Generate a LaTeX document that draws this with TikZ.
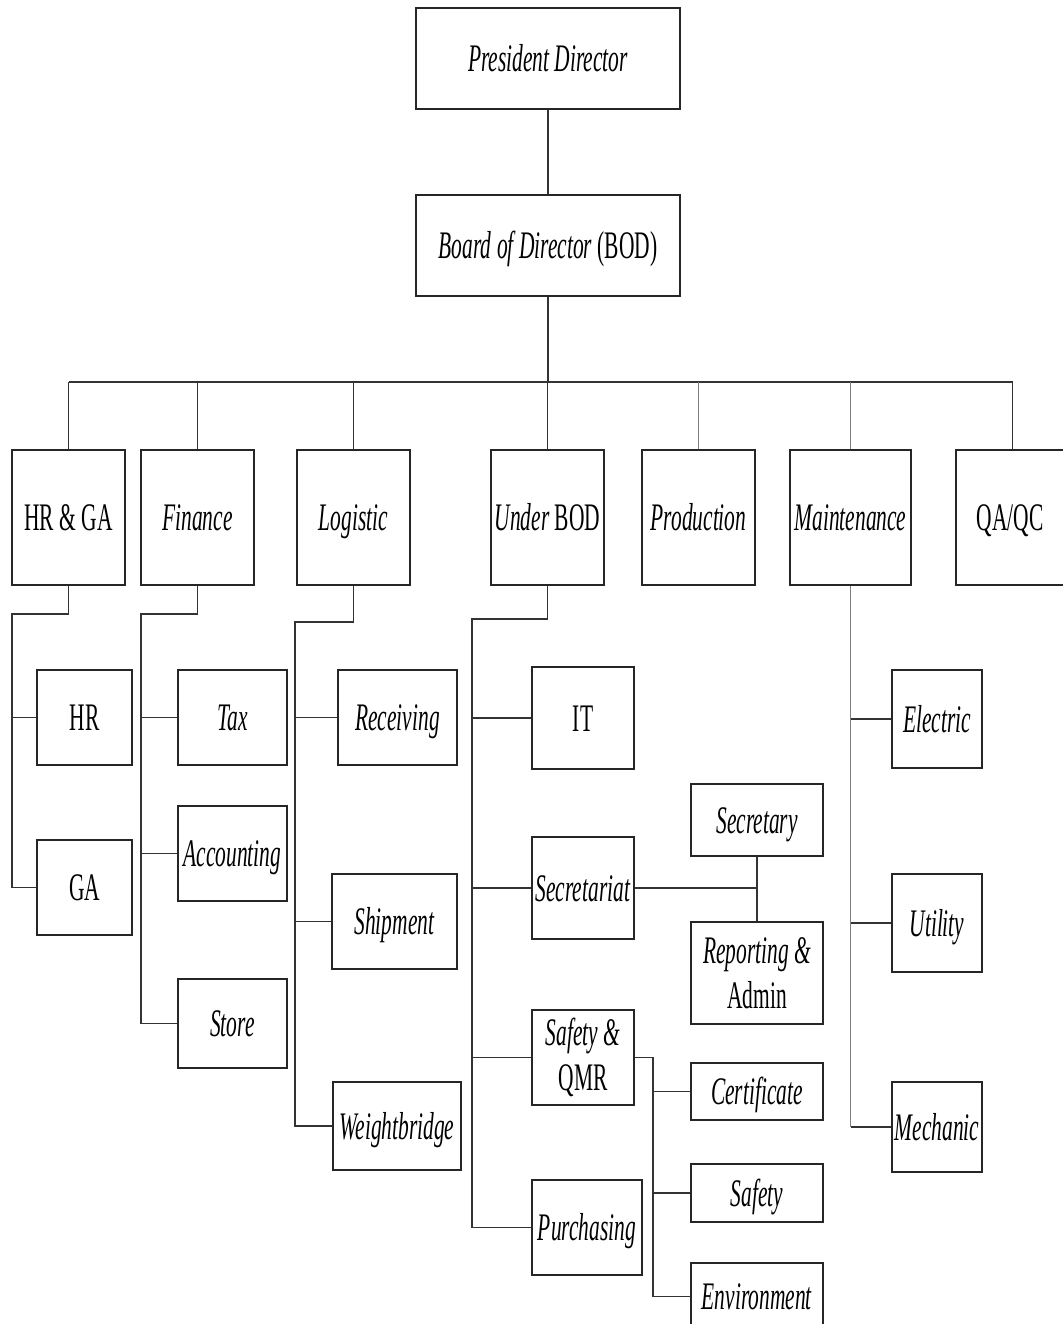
\documentclass[tikz,border=0pt]{standalone}
\usepackage{fontspec}
\setmainfont{Liberation Serif}[FakeStretch=0.55]
\begin{document}
\begin{tikzpicture}[x=1pt,y=-1pt,
  box/.style={draw=black!85, line width=1.2pt, inner sep=0pt, align=center,
    font=\fontsize{39}{45}\selectfont},
  one/.style={box, text height=26pt, text depth=0pt},
  conn/.style={draw=black!80, line width=1.1pt},
  gconn/.style={draw=black!50, line width=1.6pt}]
\useasboundingbox (0,0) rectangle (1062,1324);

% top levels
\node[one, minimum width=264pt, minimum height=101pt] (pres) at (548,58.5) {\textit{President Director}};
\node[one, minimum width=264pt, minimum height=101pt] (bod) at (548,245.5) {\textit{Board of Director} (BOD)};

% level 2
\node[one, minimum width=113pt, minimum height=135pt] (hrga) at (68.5,517.5) {HR \& GA};
\node[one, minimum width=113pt, minimum height=135pt] (fin) at (197.5,517.5) {\textit{Finance}};
\node[one, minimum width=113pt, minimum height=135pt] (log) at (353.5,517.5) {\textit{Logistic}};
\node[one, minimum width=113pt, minimum height=135pt] (ubod) at (547.5,517.5) {\textit{Under} BOD};
\node[one, minimum width=113pt, minimum height=135pt] (prod) at (698.5,517.5) {\textit{Production}};
\node[one, minimum width=121pt, minimum height=135pt] (maint) at (850.5,517.5) {\textit{Maintenance}};
\node[one, minimum width=113pt, minimum height=135pt] (qaqc) at (1012.5,517.5) {\kern-5pt QA/QC};

% HR & GA children
\node[one, minimum width=95pt, minimum height=95pt] (hr) at (84.5,717.5) {HR};
\node[one, minimum width=95pt, minimum height=95pt] (ga) at (84.5,887.5) {GA};

% Finance children
\node[one, minimum width=109pt, minimum height=95pt] (tax) at (232.5,717.5) {\textit{Tax}};
\node[one, minimum width=109pt, minimum height=95pt] (acc) at (232.5,853.5) {\textit{Accounting}};
\node[one, minimum width=109pt, minimum height=89pt] (store) at (232.5,1023.5) {\textit{Store}};

% Logistic children
\node[one, minimum width=119pt, minimum height=95pt] (recv) at (397.5,717.5) {\textit{Receiving}};
\node[one, minimum width=125pt, minimum height=95pt] (ship) at (394.5,921.5) {\textit{Shipment}};
\node[one, minimum width=128pt, minimum height=88pt] (weigh) at (397,1126) {\textit{Weightbridge}};

% Under BOD children
\node[one, minimum width=102pt, minimum height=102pt] (it) at (583,718) {IT};
\node[one, minimum width=102pt, minimum height=102pt] (sect) at (583,888) {\textit{Secretariat}};
\node[box, minimum width=102pt, minimum height=95pt] (safq) at (583,1057.5) {\textit{Safety \&}\\QMR};
\node[one, minimum width=110pt, minimum height=95pt] (purch) at (587,1227.5) {\textit{Purchasing}};

% Secretariat children
\node[one, minimum width=132pt, minimum height=72pt] (secr) at (757,820) {\textit{Secretary}};
\node[box, minimum width=132pt, minimum height=102pt] (rep) at (757,973) {\textit{Reporting \&}\\Admin};

% Safety & QMR children
\node[one, minimum width=132pt, minimum height=57pt] (cert) at (757,1091.5) {\textit{Certificate}};
\node[one, minimum width=132pt, minimum height=58pt] (safe) at (757,1193) {\textit{Safety}};
\node[one, minimum width=132pt, minimum height=67pt] (env) at (757,1296.5) {\textit{Environment}};

% Maintenance children
\node[one, minimum width=90pt, minimum height=98pt] (elec) at (937,719) {\textit{Electric}};
\node[one, minimum width=90pt, minimum height=98pt] (util) at (937,923) {\textit{Utility}};
\node[one, minimum width=90pt, minimum height=90pt] (mech) at (937,1127) {\textit{Mechanic}};

% bus coordinates
\coordinate (busL) at (68.5,382);
\coordinate (busR) at (1012.5,382);
\coordinate (hrgaT) at (12,614);
\coordinate (finT) at (141,614);
\coordinate (logT) at (295,622);
\coordinate (ubodT) at (472,619);
\coordinate (sqT) at (653,1057.5);

% top connectors
\draw[conn] (pres.south) -- (bod.north);
\draw[conn] (bod.south) -- (bod.south |- busL);
\draw[conn] (busL) -- (busR);
\draw[conn] (hrga.north) -- (hrga.north |- busL);
\draw[conn] (fin.north) -- (fin.north |- busL);
\draw[conn] (log.north) -- (log.north |- busL);
\draw[conn] (ubod.north) -- (ubod.north |- busL);
\draw[gconn] (prod.north) -- (prod.north |- busL);
\draw[gconn] (maint.north) -- (maint.north |- busL);
\draw[conn] (qaqc.north) -- (qaqc.north |- busL);

% HR & GA
\draw[conn] (hrga.south) |- (hrgaT) |- (ga.west);
\draw[conn] (hr.west) -- (hr.west -| hrgaT);

% Finance
\draw[conn] (fin.south) |- (finT) |- (store.west);
\draw[conn] (tax.west) -- (tax.west -| finT);
\draw[conn] (acc.west) -- (acc.west -| finT);

% Logistic
\draw[conn] (log.south) |- (logT) |- (weigh.west);
\draw[conn] (recv.west) -- (recv.west -| logT);
\draw[conn] (ship.west) -- (ship.west -| logT);

% Under BOD
\draw[conn] (ubod.south) |- (ubodT) |- (purch.west);
\draw[conn] (it.west) -- (it.west -| ubodT);
\draw[conn] (sect.west) -- (sect.west -| ubodT);
\draw[conn] (safq.west) -- (safq.west -| ubodT);

% Secretariat
\draw[conn] (sect.east) -- (sect.east -| secr.south);
\draw[conn] (secr.south) -- (rep.north);

% Safety & QMR
\draw[conn] (safq.east) -- (sqT) |- (env.west);
\draw[conn] (cert.west) -- (cert.west -| sqT);
\draw[conn] (safe.west) -- (safe.west -| sqT);

% Maintenance
\draw[gconn] (maint.south) -- (maint.south |- mech.west);
\draw[conn] (mech.west) -- (mech.west -| maint.south);
\draw[conn] (elec.west) -- (elec.west -| maint.south);
\draw[conn] (util.west) -- (util.west -| maint.south);
\end{tikzpicture}
\end{document}
